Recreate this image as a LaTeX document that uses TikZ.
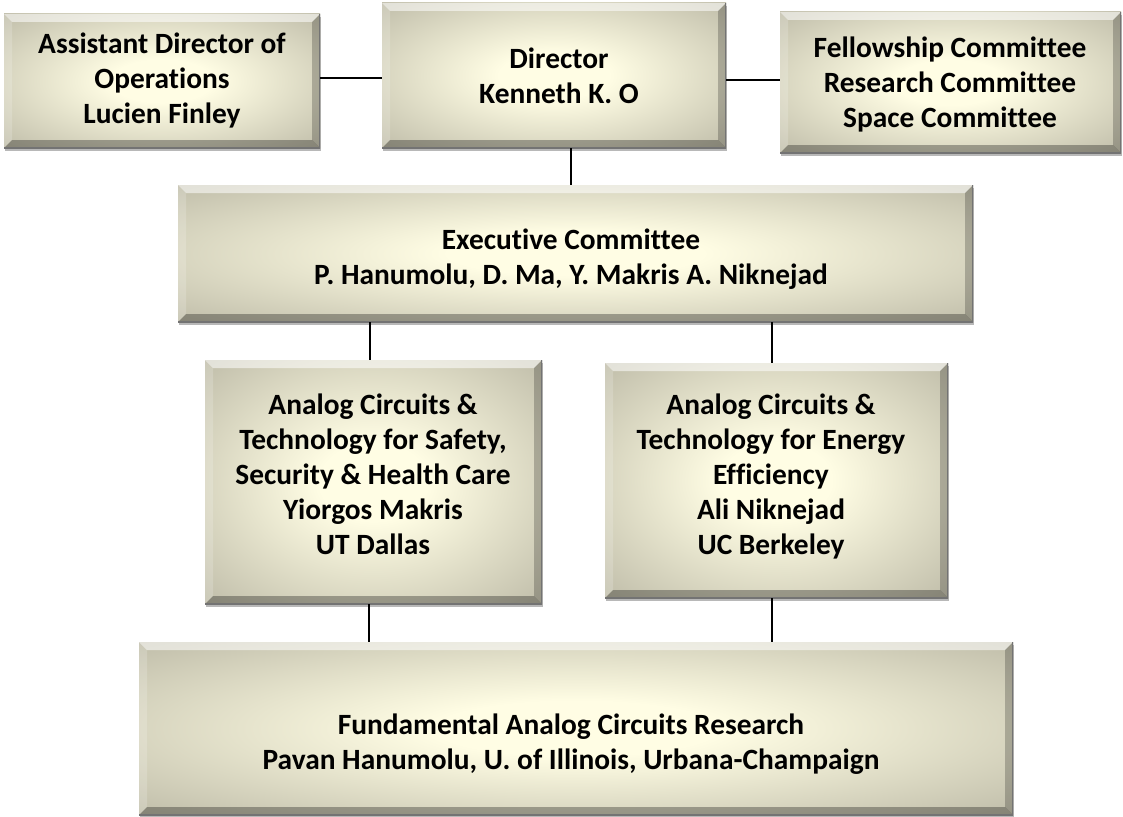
\documentclass[tikz,border=0pt]{standalone}
\usepackage{fontspec}
\setmainfont{Carlito}[Ligatures=NoCommon]
\usetikzlibrary{calc,shadows}
\definecolor{cream}{RGB}{255,253,228}
\definecolor{khaki}{RGB}{158,155,138}
\pgfdeclareradialshading{glow}{\pgfpoint{0bp}{0bp}}{color(0bp)=(cream); color(8bp)=(cream); color(50bp)=(khaki); color(72bp)=(khaki)}
\tikzset{
  orgbox/.style={rectangle, inner sep=0pt, shading=glow,
    general shadow={fill=black, opacity=.28, shadow xshift=1pt, shadow yshift=-3pt},
    path picture={
      \fill[white, opacity=.55]
        (path picture bounding box.north west) -- (path picture bounding box.north east)
        -- ([shift={(-8pt,-8pt)}]path picture bounding box.north east)
        -- ([shift={(8pt,-8pt)}]path picture bounding box.north west) -- cycle;
      \fill[white, opacity=.18]
        (path picture bounding box.north west) -- (path picture bounding box.south west)
        -- ([shift={(8pt,8pt)}]path picture bounding box.south west)
        -- ([shift={(8pt,-8pt)}]path picture bounding box.north west) -- cycle;
      \fill[black, opacity=.22]
        (path picture bounding box.north east) -- (path picture bounding box.south east)
        -- ([shift={(-8pt,8pt)}]path picture bounding box.south east)
        -- ([shift={(-8pt,-8pt)}]path picture bounding box.north east) -- cycle;
      \fill[black, opacity=.30]
        (path picture bounding box.south west) -- (path picture bounding box.south east)
        -- ([shift={(-8pt,8pt)}]path picture bounding box.south east)
        -- ([shift={(8pt,8pt)}]path picture bounding box.south west) -- cycle;
      \draw[black!55, line width=1.2pt] (path picture bounding box.north east)
        -- (path picture bounding box.south east) -- (path picture bounding box.south west);
    }},
  orgtext/.style={align=center, inner sep=0pt, font=\bfseries\fontsize{29.4}{35}\selectfont},
  link/.style={draw=black, line width=2pt}
}
\begin{document}
\begin{tikzpicture}[x=1pt,y=-1pt]
\useasboundingbox (0,0) rectangle (1123,816);
% boxes
\node[orgbox, minimum width=316pt, minimum height=134pt] (asst) at (162,81) {};
\node[orgbox, minimum width=344pt, minimum height=145pt] (dir) at (554,75.5) {};
\node[orgbox, minimum width=341pt, minimum height=141pt] (fell) at (950.5,82.5) {};
\node[orgbox, minimum width=795pt, minimum height=137pt] (exec) at (575.5,253.5) {};
\node[orgbox, minimum width=337pt, minimum height=244pt] (lmid) at (373.5,482) {};
\node[orgbox, minimum width=343pt, minimum height=235pt] (rmid) at (776.5,480.5) {};
\node[orgbox, minimum width=874pt, minimum height=173pt] (fund) at (576,728.5) {};
% texts
\node[orgtext] (asstT) at (162,80.5) {Assistant Director of\\Operations\\Lucien Finley};
\node[orgtext] (dirT) at (559,75.5) {Director\\Kenneth K. O};
\node[orgtext] (fellT) at (950,84) {Fellowship Committee\\Research Committee\\Space Committee};
\node[orgtext] (execT) at (571,259.5) {Executive Committee\\P. Hanumolu, D. Ma, Y. Makris A. Niknejad};
\node[orgtext] (lmidT) at (373,474) {Analog Circuits \&\\Technology for Safety,\\Security \& Health Care\\Yiorgos Makris\\UT Dallas};
\node[orgtext] (rmidT) at (771,476) {Analog Circuits \&\\Technology for Energy\\Efficiency\\Ali Niknejad\\UC Berkeley};
\node[orgtext] (fundT) at (571,744) {Fundamental Analog Circuits Research\\Pavan Hanumolu, U. of Illinois, Urbana-Champaign};
% connectors
\draw[link] ([yshift=3pt]asst.east) -- ([yshift=3pt]asst.east -| dir.west);
\draw[link] ([yshift=-4.5pt]dir.east) -- ([yshift=-4.5pt]dir.east -| fell.west);
\draw[link] ([xshift=-4.5pt]exec.north) -- ([xshift=-4.5pt]exec.north |- dir.south);
\draw[link] ([xshift=-4pt]lmid.north) -- ([xshift=-4pt]lmid.north |- exec.south);
\draw[link] ([xshift=-5pt]rmid.north) -- ([xshift=-5pt]rmid.north |- exec.south);
\draw[link] ([xshift=-5pt]lmid.south) -- ([xshift=-5pt]lmid.south |- fund.north);
\draw[link] ([xshift=-5pt]rmid.south) -- ([xshift=-5pt]rmid.south |- fund.north);
\end{tikzpicture}
\end{document}
